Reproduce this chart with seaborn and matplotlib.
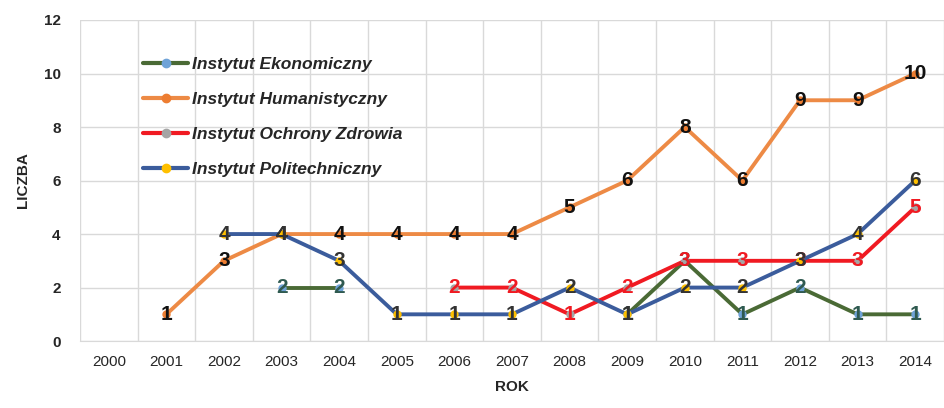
import numpy as np
import pandas as pd
import matplotlib
matplotlib.use("Agg")
import matplotlib.pyplot as plt
from matplotlib.lines import Line2D
import seaborn as sns

years = [str(y) for y in range(2000, 2015)]
nan = np.nan
eko = [nan, nan, nan, 2, 2, nan, nan, nan, nan, 1, 3, 1, 2, 1, 1]
hum = [nan, 1, 3, 4, 4, 4, 4, 4, 5, 6, 8, 6, 9, 9, 10]
och = [nan, nan, nan, nan, nan, nan, 2, 2, 1, 2, 3, 3, 3, 3, 5]
pol = [nan, nan, 4, 4, 3, 1, 1, 1, 2, 1, 2, 2, 3, 4, 6]

names = ["Instytut Ekonomiczny", "Instytut Humanistyczny",
         "Instytut Ochrony Zdrowia", "Instytut Politechniczny"]
series = [eko, hum, och, pol]
line_colors = ["#4A6A35", "#ED8A45", "#F01A22", "#3B5C9C"]
marker_colors = ["#6FA3D8", "#ED7D31", "#A5A5A5", "#FFC000"]
label_colors = ["#2F5A50", "#111111", "#F01A22", "#333333"]

rows = []
for name, vals in zip(names, series):
    seg = 0
    prev_nan = True
    for i, v in enumerate(vals):
        if np.isnan(v):
            prev_nan = True
            continue
        if prev_nan:
            seg += 1
        prev_nan = False
        rows.append({"pos": i, "value": v, "series": name, "seg": f"{name}_{seg}"})
df = pd.DataFrame(rows)

sns.set_style("white")
fig = plt.figure(figsize=(9.44, 4.08), dpi=100)
ax = fig.add_axes([0.0847, 0.164, 0.9153, 0.787])

sns.lineplot(data=df, x="pos", y="value", hue="series", units="seg",
             estimator=None, palette=dict(zip(names, line_colors)),
             hue_order=names, linewidth=2.8, legend=False, ax=ax, sort=True)

for name, vals, mc, lc in zip(names, series, marker_colors, label_colors):
    for i, v in enumerate(vals):
        if np.isnan(v):
            continue
        ax.plot(i, v, marker="o", ms=5, color=mc, zorder=3)
for name, vals, mc, lc in zip(names, series, marker_colors, label_colors):
    for i, v in enumerate(vals):
        if np.isnan(v):
            continue
        ax.text(i, v, f"{int(v)}", ha="center", va="center", fontsize=15,
                fontweight="bold", color=lc, zorder=5,
                family=["Liberation Sans", "DejaVu Sans"])

ax.set_xlim(-0.5, 14.5)
ax.set_ylim(0, 12)
ax.set_yticks(range(0, 13, 2))
ax.set_xticks(range(len(years)))
ax.set_xticklabels(years)
ax.set_xticks(np.arange(-0.5, 15, 1), minor=True)
ax.grid(False)
ax.grid(True, which="minor", axis="x", color="#D9D9D9", lw=1)
ax.grid(True, which="major", axis="y", color="#D9D9D9", lw=1)
ax.set_axisbelow(True)
for s in ["top", "right", "left"]:
    ax.spines[s].set_visible(False)
ax.spines["bottom"].set_color("#D9D9D9")
ax.tick_params(axis="both", which="both", length=0)
for t in ax.get_yticklabels():
    t.set_fontweight("bold")
    t.set_fontsize(11)
    t.set_family(["Liberation Sans", "DejaVu Sans"])
for t in ax.get_xticklabels():
    t.set_fontsize(11)
    t.set_family(["Liberation Sans Narrow", "Liberation Sans", "DejaVu Sans"])
ax.tick_params(axis="x", pad=10)
ax.tick_params(axis="y", pad=14)
ax.set_xlabel("ROK", fontsize=11, fontweight="bold", labelpad=8,
              family=["Liberation Sans Narrow", "Liberation Sans", "DejaVu Sans"])
ax.set_ylabel("LICZBA", fontsize=11, fontweight="bold", labelpad=10,
              family=["Liberation Sans Narrow", "Liberation Sans", "DejaVu Sans"])

handles = [Line2D([0], [0], color=lc, lw=3, marker="o", ms=6,
                  markerfacecolor=mc, markeredgecolor=mc)
           for lc, mc in zip(line_colors, marker_colors)]
leg = ax.legend(handles, names, loc="upper left", bbox_to_anchor=(0.055, 0.935),
                frameon=False, handlelength=2.6, handletextpad=0.2,
                labelspacing=1.15,
                prop={"size": 12.5, "weight": "bold", "style": "italic",
                      "family": ["Liberation Sans", "DejaVu Sans"]})

fig.savefig("out.png", dpi=100)
